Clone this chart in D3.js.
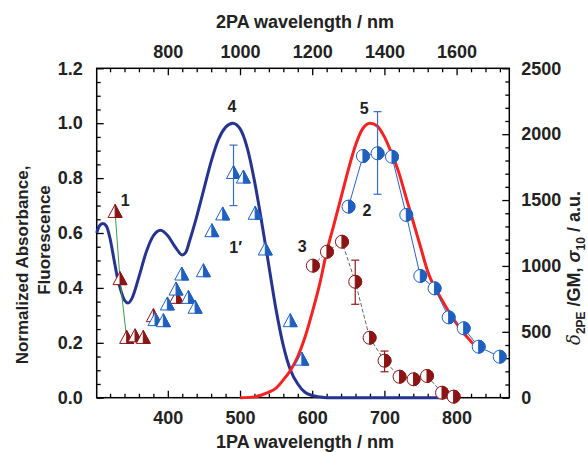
<!DOCTYPE html>
<html><head><meta charset="utf-8">
<script src="https://cdn.jsdelivr.net/npm/d3@7"></script>
<style>
html,body{margin:0;padding:0;background:#fff;}
svg text{font-family:"Liberation Sans",Arial,sans-serif;}
</style></head>
<body>
<svg id="c" width="588" height="452"></svg>
<script>
// ---- data ----
// 1PA absorption (curve 4): [wavelength nm, normalized]
const absorbance = [[301.5,0.60],[305,0.625],[310,0.635],[315,0.625],[320,0.58],[325,0.51],[330,0.44],[335,0.39],[340,0.355],[345,0.345],[350,0.36],[360,0.44],[370,0.53],[380,0.59],[390,0.61],[400,0.59],[410,0.55],[420,0.52],[425,0.53],[430,0.57],[440,0.66],[450,0.76],[460,0.86],[470,0.94],[480,0.985],[490,1.0],[500,0.98],[510,0.91],[520,0.79],[530,0.64],[540,0.48],[550,0.32],[560,0.19],[570,0.10],[580,0.05],[590,0.02],[600,0.008],[610,0.003],[620,0.0],[780,0.0]];
// fluorescence (curve 5)
const fluorescence = [[500,0],[520,0.003],[530,0.01],[540,0.02],[550,0.035],[560,0.065],[570,0.10],[580,0.15],[590,0.22],[600,0.31],[610,0.41],[620,0.53],[630,0.63],[640,0.73],[650,0.83],[660,0.92],[670,0.98],[680,1.0],[690,0.99],[700,0.95],[710,0.89],[720,0.82],[730,0.73],[740,0.64],[750,0.55],[760,0.46],[770,0.40],[780,0.355],[790,0.31],[800,0.27],[810,0.235],[820,0.205],[825,0.19]];
// series 1 (right axis)
const series1 = [[327,1406],[333.8,896],[343,450],[354.6,462],[366,450],[380,615],[412,754]];
// series 1' (right axis)
const series1p = [[382.3,585],[393.8,577],[399.4,704],[411.4,817],[419.3,931],[428.5,754],[437.8,679],[449.3,956],[461,1260],[476,1387],[491,1702],[504.7,1667],[521,1392],[535,1121],[569.5,577],[585.7,285]];
const err1p = [[491,1458,1917]];
// series 2 (right axis)
const series2 = [[650.3,1450],[670.3,1834],[690.5,1855],[710.5,1829],[730.3,1387],[749.7,924],[769.5,830],[789,610],[809.8,527],[830.6,387],[859.7,311]];
const err2 = [[690.5,1544,2171]];
// series 3 (right axis)
const series3 = [[600.9,1002],[620.4,1108],[641.2,1184],[659.6,880],[679.5,455],[700.2,281],[721,159],[740.4,140],[759,165],[779.8,38],[795.9,8]];
const err3 = [[659.6,709,1044],[700.2,197,354]];
// axis ticks
const bottomTicks = [400,500,600,700,800];
const topTicks = [800,1000,1200,1400,1600];
const leftTicks = [0,0.2,0.4,0.6,0.8,1.0,1.2];
const rightTicks = [0,500,1000,1500,2000,2500];
// curve labels: [text, wavelength, left-axis value]
const labels = [["4",489,1.04],["5",672,1.035],["1",341,0.70],["1\u2032",494,0.527],["2",676,0.662],["3",586,0.531]];

// ---- layout ----
const L=96.7,R=509.3,T=68.3,B=397.7;
const svg=d3.select("#c");
const x=d3.scaleLinear().domain([301.5,873]).range([L,R]);
const xTop=d3.scaleLinear().domain([603,1746]).range([L,R]);
const yL=d3.scaleLinear().domain([0,1.2]).range([B,T]);
const yR=d3.scaleLinear().domain([0,2500]).range([B,T]);

const FS="18px";
function styleAxis(g){
  g.select(".domain").remove();
  g.selectAll(".tick line").attr("stroke","#000").attr("stroke-width",1.3);
  g.selectAll(".tick text").attr("font-size",FS).attr("font-weight","bold").attr("fill","#222").attr("font-family","Liberation Sans, Arial, sans-serif");
}
// minor ticks
const minorB=d3.range(320,873,20).filter(v=>v%100!==0);
const minorT=d3.range(640,1746,40).filter(v=>v%200!==0);
const minorL=d3.range(0.05,1.2,0.05).filter(v=>Math.abs(v*5-Math.round(v*5))>1e-6);
const minorR=d3.range(100,2500,100).filter(v=>v%500!==0);

svg.append("g").attr("transform",`translate(0,${B})`).call(d3.axisBottom(x).tickValues(minorB).tickSize(-4).tickFormat("")).call(styleAxis);
svg.append("g").attr("transform",`translate(0,${B})`).call(d3.axisBottom(x).tickValues(bottomTicks).tickSize(-7).tickPadding(14).tickFormat(d3.format("d"))).call(styleAxis);
svg.append("g").attr("transform",`translate(0,${T})`).call(d3.axisTop(xTop).tickValues(minorT).tickSize(-4).tickFormat("")).call(styleAxis);
svg.append("g").attr("transform",`translate(0,${T})`).call(d3.axisTop(xTop).tickValues(topTicks).tickSize(-7).tickPadding(10).tickFormat(d3.format("d"))).call(styleAxis);
svg.append("g").attr("transform",`translate(${L},0)`).call(d3.axisLeft(yL).tickValues(minorL).tickSize(-4).tickFormat("")).call(styleAxis);
svg.append("g").attr("transform",`translate(${L},0)`).call(d3.axisLeft(yL).tickValues(leftTicks).tickSize(-7).tickPadding(14).tickFormat(d3.format(".1f"))).call(styleAxis);
svg.append("g").attr("transform",`translate(${R},0)`).call(d3.axisRight(yR).tickValues(minorR).tickSize(-4).tickFormat("")).call(styleAxis);
svg.append("g").attr("transform",`translate(${R},0)`).call(d3.axisRight(yR).tickValues(rightTicks).tickSize(-7).tickPadding(12).tickFormat(d3.format("d"))).call(styleAxis);

// frame
svg.append("rect").attr("x",L).attr("y",T).attr("width",R-L).attr("height",B-T).attr("fill","none").attr("stroke","#000").attr("stroke-width",1.5);

// curves
const lineL=d3.line().x(d=>x(d[0])).y(d=>yL(d[1])).curve(d3.curveMonotoneX);
svg.append("path").datum(absorbance).attr("d",lineL).attr("fill","none").attr("stroke","#27348f").attr("stroke-width",3);
svg.append("path").datum(fluorescence).attr("d",lineL).attr("fill","none").attr("stroke","#f52222").attr("stroke-width",3);

// connecting lines
const lineR=d3.line().x(d=>x(d[0])).y(d=>yR(d[1]));
svg.append("path").datum(series1.slice(0,3)).attr("d",lineR).attr("fill","none").attr("stroke","#3d9a47").attr("stroke-width",1);
svg.append("path").datum(series2).attr("d",lineR).attr("fill","none").attr("stroke","#2a62c4").attr("stroke-width",1);
svg.append("path").datum(series3).attr("d",lineR).attr("fill","none").attr("stroke","#555").attr("stroke-width",0.9).attr("stroke-dasharray","4,2");

// error bars
function errBars(data,color){
  const g=svg.append("g").attr("stroke",color).attr("stroke-width",1.2);
  data.forEach(d=>{
    g.append("line").attr("x1",x(d[0])).attr("x2",x(d[0])).attr("y1",yR(d[1])).attr("y2",yR(d[2]));
    [d[1],d[2]].forEach(v=>g.append("line").attr("x1",x(d[0])-4).attr("x2",x(d[0])+4).attr("y1",yR(v)).attr("y2",yR(v)));
  });
}
errBars(err1p,"#3a6cc8");
errBars(err2,"#3a6cc8");
errBars(err3,"#8b1a1a");

// markers
function circles(data,color){
  const g=svg.append("g");
  data.forEach(d=>{
    const m=g.append("g").attr("transform",`translate(${x(d[0])},${yR(d[1])})`);
    m.append("circle").attr("r",6.5).attr("fill","#fff").attr("stroke",color).attr("stroke-width",1);
    m.append("path").attr("d","M0,-6.5A6.5,6.5 0 0 1 0,6.5Z").attr("fill",color).attr("stroke",color).attr("stroke-width",1);
  });
}
function triangles(data,color){
  const g=svg.append("g");
  data.forEach(d=>{
    const m=g.append("g").attr("transform",`translate(${x(d[0])},${yR(d[1])})`);
    m.append("path").attr("d","M0,-8L7,5L-7,5Z").attr("fill","#fff").attr("stroke",color).attr("stroke-width",1);
    m.append("path").attr("d","M0,-8L7,5L0,5Z").attr("fill",color).attr("stroke",color).attr("stroke-width",1);
  });
}
triangles(series1,"#8b1414");
triangles(series1p,"#1f5fbf");
circles(series3,"#8b1414");
circles(series2,"#1f5fbf");

// curve labels
svg.append("g").selectAll("text").data(labels).join("text")
  .attr("x",d=>x(d[1])).attr("y",d=>yL(d[2])).attr("text-anchor","middle")
  .attr("font-size","16px").attr("font-weight","bold").attr("fill","#222").text(d=>d[0]);

// axis titles
svg.append("text").attr("x",305).attr("y",28).attr("text-anchor","middle").attr("font-size","18px").attr("font-weight","bold").attr("fill","#222").text("2PA wavelength / nm");
svg.append("text").attr("x",305).attr("y",448).attr("text-anchor","middle").attr("font-size","18px").attr("font-weight","bold").attr("fill","#222").text("1PA wavelength / nm");
svg.append("text").attr("transform","translate(28,265) rotate(-90)").attr("text-anchor","middle").attr("font-size","17px").attr("font-weight","bold").attr("fill","#222").text("Normalized Absorbance,");
svg.append("text").attr("transform","translate(50,240) rotate(-90)").attr("text-anchor","middle").attr("font-size","17px").attr("font-weight","bold").attr("fill","#222").text("Fluorescence");
const rt=svg.append("text").attr("transform","translate(580,268) rotate(-90)").attr("text-anchor","middle").attr("font-size","18px").attr("font-weight","bold").attr("fill","#222");
rt.append("tspan").attr("font-style","italic").attr("font-weight","normal").attr("font-family","DejaVu Serif, serif").text("\u03b4");
rt.append("tspan").attr("font-size","12px").attr("dy",5).text("2PE");
rt.append("tspan").attr("dy",-5).text(" /GM, ");
rt.append("tspan").attr("font-style","italic").text("\u03c3");
rt.append("tspan").attr("font-size","12px").attr("dy",5).text("10");
rt.append("tspan").attr("dy",-5).text(" / a.u.");
</script>
</body></html>
